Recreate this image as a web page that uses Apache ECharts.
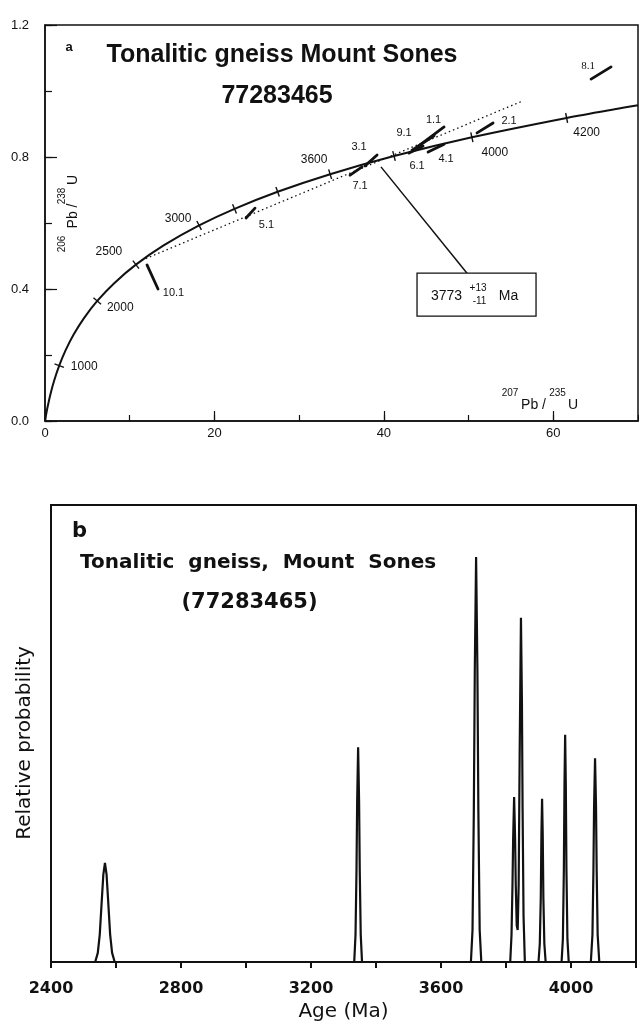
<!DOCTYPE html>
<html>
<head>
<meta charset="utf-8">
<script src="https://cdn.jsdelivr.net/npm/echarts@6/dist/echarts.min.js"></script>
<style>html,body{margin:0;padding:0;background:#fff}#c{width:639px;height:1030px}</style>
</head>
<body>
<div id="c"></div>
<script>
// ---------- DATA (panel a: concordia diagram) ----------
const concordiaAges = [0, 50, 100, 250, 500, 750, 1000, 1250, 1500, 1750, 2000, 2250, 2500, 2750, 3000, 3200, 3400, 3600, 3800, 4000, 4200, 4300, 4328];
const concordiaX = [0, 0.0505, 0.1035, 0.2792, 0.6363, 1.0931, 1.6774, 2.4249, 3.3810, 4.6041, 6.1685, 8.1697, 10.7298, 14.0044, 18.193, 22.371, 27.460, 33.656, 41.200, 50.388, 61.575, 68.052, 70.0];
const concordiaY = [0, 0.00779, 0.01563, 0.03954, 0.08065, 0.12338, 0.16780, 0.21399, 0.26200, 0.31190, 0.36377, 0.41769, 0.47374, 0.53203, 0.59262, 0.64280, 0.69456, 0.74796, 0.80306, 0.85986, 0.91847, 0.94846, 0.95703];
const tickAges = [1000, 2000, 2500, 3000, 3200, 3400, 3600, 3800, 4000, 4200];
const tickLabels = ['1000', '2000', '2500', '3000', '', '', '3600', '', '4000', '4200'];
const discordiaX = [11.4, 56.4];
const discordiaY = [0.487, 0.970];
const spotLabels = ['1.1', '2.1', '3.1', '4.1', '5.1', '6.1', '7.1', '8.1', '9.1', '10.1'];
const spotX1 = [43.92, 51.00, 37.78, 45.22, 23.73, 42.98, 36.01, 64.46, 43.33, 12.04];
const spotY1 = [0.830, 0.873, 0.773, 0.815, 0.615, 0.812, 0.745, 1.036, 0.821, 0.473];
const spotX2 = [47.11, 52.89, 39.20, 47.11, 24.79, 44.63, 37.43, 66.82, 45.93, 13.34];
const spotY2 = [0.891, 0.903, 0.806, 0.839, 0.645, 0.833, 0.770, 1.073, 0.864, 0.400];
const xTickLabels = ['0', '20', '40', '60'];
const yTickLabels = ['0.0', '0.4', '0.8', '1.2'];
const interceptAge = '3773';
const interceptPlus = '+13';
const interceptMinus = '-11';
const arrowTail = [49.82, 0.448];
const arrowTip = [39.66, 0.770];
const boxCenter = [50.94, 0.383];

// ---------- DATA (panel b: probability plot) ----------
const ageTickLabels = ['2400', '2800', '3200', '3600', '4000'];
const probAges = [
  2400,
  2536, 2544, 2550, 2556, 2561, 2566, 2571, 2576, 2582, 2588, 2596,
  3333, 3337, 3340, 3342, 3345, 3348, 3350, 3353, 3357,
  3692, 3697, 3701, 3704, 3708, 3712, 3715, 3719, 3724,
  3813, 3817, 3820, 3822, 3825, 3828, 3830, 3833, 3836, 3839, 3842, 3846, 3849, 3851, 3854, 3858,
  3900, 3904, 3907, 3909, 3911, 3913, 3915, 3918, 3922,
  3971, 3975, 3978, 3980, 3982, 3984, 3986, 3989, 3993,
  4061, 4066, 4069, 4071, 4074, 4077, 4079, 4082, 4087,
  4200];
const probValues = [
  0,
  0, 0.02, 0.06, 0.132, 0.191, 0.217, 0.191, 0.132, 0.06, 0.02, 0,
  0, 0.06, 0.2, 0.35, 0.47, 0.35, 0.2, 0.06, 0,
  0, 0.07, 0.33, 0.64, 0.886, 0.64, 0.33, 0.07, 0,
  0, 0.06, 0.17, 0.27, 0.361, 0.27, 0.17, 0.08, 0.07, 0.17, 0.45, 0.753, 0.57, 0.34, 0.1, 0,
  0, 0.04, 0.14, 0.28, 0.357, 0.28, 0.14, 0.04, 0,
  0, 0.05, 0.2, 0.39, 0.497, 0.39, 0.2, 0.05, 0,
  0, 0.06, 0.2, 0.34, 0.446, 0.34, 0.2, 0.06, 0,
  0];

// ---------- STYLE ----------
const BLACK = '#111';
const SANS = "'Liberation Sans', Arial, sans-serif";
const DEJA = "'DejaVu Sans', sans-serif";
const tickLabelOffset = {'1000': [25, 1], '2000': [23, 7], '2500': [-27, -13], '3000': [-21, -7], '3600': [-16, -14], '4000': [23, 15], '4200': [20, 15]};
const spotLabelOffset = {'1.1': [3, -17], '2.1': [24, -7], '3.1': [-12, -13], '4.1': [10, 11], '5.1': [16, 12], '6.1': [1, 16], '7.1': [4, 15], '8.1': [-13, -7], '9.1': [-19, -10], '10.1': [21, 16]};

const chart = echarts.init(document.getElementById('c'));

const concordiaData = concordiaX.map((x, i) => [x, concordiaY[i]]);
const tickData = tickAges.map(a => { const i = concordiaAges.indexOf(a); return [concordiaX[i], concordiaY[i], i]; });
const spotData = spotLabels.map((l, i) => [spotX1[i], spotY1[i], spotX2[i], spotY2[i]]);
const discordiaData = discordiaX.map((x, i) => [x, discordiaY[i]]);
const probData = probAges.map((a, i) => [a, probValues[i]]);

function renderTick(params, api) {
  const i = api.value(2);
  const p = api.coord([api.value(0), api.value(1)]);
  const a = api.coord([concordiaX[i - 1], concordiaY[i - 1]]);
  const b = api.coord([concordiaX[i + 1], concordiaY[i + 1]]);
  let dx = b[0] - a[0], dy = b[1] - a[1];
  const L = Math.hypot(dx, dy); dx /= L; dy /= L;
  const nx = -dy, ny = dx, h = 5;
  const children = [{type: 'line', shape: {x1: p[0] - nx * h, y1: p[1] - ny * h, x2: p[0] + nx * h, y2: p[1] + ny * h},
    style: {stroke: BLACK, lineWidth: 1.4}}];
  const lab = tickLabels[params.dataIndex];
  if (lab) {
    const o = tickLabelOffset[lab];
    children.push({type: 'text', x: p[0] + o[0], y: p[1] + o[1],
      style: {text: lab, fill: BLACK, font: '12px ' + SANS, align: 'center', verticalAlign: 'middle'}});
  }
  return {type: 'group', children};
}

function renderSpot(params, api) {
  const p1 = api.coord([api.value(0), api.value(1)]);
  const p2 = api.coord([api.value(2), api.value(3)]);
  const lab = spotLabels[params.dataIndex];
  const o = spotLabelOffset[lab];
  const cx = (p1[0] + p2[0]) / 2, cy = (p1[1] + p2[1]) / 2;
  return {type: 'group', children: [
    {type: 'line', shape: {x1: p1[0], y1: p1[1], x2: p2[0], y2: p2[1]}, style: {stroke: BLACK, lineWidth: 2.8, lineCap: 'round'}},
    {type: 'text', x: cx + o[0], y: cy + o[1], style: {text: lab, fill: BLACK,
      font: lab === '8.1' ? "11px 'Liberation Serif', serif" : '11px ' + SANS, align: 'center', verticalAlign: 'middle'}}
  ]};
}

const option = {
  animation: false,
  backgroundColor: '#fff',
  grid: [
    {left: 45, top: 25, width: 593, height: 396, show: true, borderColor: BLACK, borderWidth: 1.5, backgroundColor: 'transparent'},
    {left: 51, top: 505, width: 586, height: 457, show: true, borderColor: BLACK, borderWidth: 2, backgroundColor: 'transparent'}
  ],
  xAxis: [
    {gridIndex: 0, type: 'value', min: 0, max: 70, interval: 20, position: 'bottom',
      axisLine: {lineStyle: {color: BLACK, width: 1.5}},
      axisTick: {inside: true, length: 10, lineStyle: {color: BLACK, width: 1.2}},
      axisLabel: {margin: 6, color: BLACK, fontSize: 13, fontFamily: SANS, showMaxLabel: false,
        formatter: v => xTickLabels[xTickLabels.indexOf(String(v))] || ''},
      splitLine: {show: false}},
    {gridIndex: 0, type: 'value', min: 0, max: 70, interval: 10, position: 'bottom',
      axisLine: {show: false},
      axisTick: {inside: true, length: 6, lineStyle: {color: BLACK, width: 1.2}},
      axisLabel: {show: false}, splitLine: {show: false}},
    {gridIndex: 1, type: 'value', min: 2400, max: 4200, interval: 200, position: 'bottom',
      axisLine: {lineStyle: {color: BLACK, width: 2}},
      axisTick: {inside: false, length: 6, lineStyle: {color: BLACK, width: 2}},
      axisLabel: {margin: 19, color: BLACK, fontSize: 16, fontWeight: 'bold', fontFamily: DEJA,
        formatter: v => ageTickLabels.indexOf(String(v)) >= 0 ? String(v) : ''},
      splitLine: {show: false},
      name: 'Age (Ma)', nameLocation: 'middle', nameGap: 40,
      nameTextStyle: {color: BLACK, fontSize: 20, fontFamily: DEJA}}
  ],
  yAxis: [
    {gridIndex: 0, type: 'value', min: 0, max: 1.2, interval: 0.4, position: 'left',
      axisLine: {lineStyle: {color: BLACK, width: 1.5}},
      axisTick: {inside: true, length: 12, lineStyle: {color: BLACK, width: 1.2}},
      axisLabel: {margin: 16, color: BLACK, fontSize: 13, fontFamily: SANS,
        formatter: v => yTickLabels[Math.round(v / 0.4)] || ''},
      splitLine: {show: false}},
    {gridIndex: 0, type: 'value', min: 0, max: 1.2, interval: 0.2, position: 'left',
      axisLine: {show: false},
      axisTick: {inside: true, length: 7, lineStyle: {color: BLACK, width: 1.2}},
      axisLabel: {show: false}, splitLine: {show: false}},
    {gridIndex: 1, type: 'value', min: 0, max: 1, position: 'left',
      axisLine: {lineStyle: {color: BLACK, width: 2}},
      axisTick: {show: false}, axisLabel: {show: false}, splitLine: {show: false}}
  ],
  series: [
    {type: 'line', xAxisIndex: 0, yAxisIndex: 0, data: concordiaData, showSymbol: false, smooth: 0.3,
      lineStyle: {color: BLACK, width: 2}, silent: true, z: 3},
    {type: 'line', xAxisIndex: 0, yAxisIndex: 0, data: discordiaData, showSymbol: false,
      lineStyle: {color: BLACK, width: 1.3, type: [1.5, 3]}, silent: true, z: 2,
      markLine: {silent: true, symbol: ['none', 'arrow'], symbolSize: [0, 11],
        lineStyle: {color: BLACK, width: 1.5, type: 'solid'}, label: {show: false},
        data: [[{coord: arrowTail}, {coord: arrowTip}]]}},
    {type: 'custom', xAxisIndex: 0, yAxisIndex: 0, data: tickData, renderItem: renderTick, clip: false, silent: true, z: 4,
      encode: {x: 0, y: 1}},
    {type: 'custom', xAxisIndex: 0, yAxisIndex: 0, data: spotData, renderItem: renderSpot, clip: false, silent: true, z: 5,
      encode: {x: [0, 2], y: [1, 3]}},
    {type: 'line', xAxisIndex: 2, yAxisIndex: 2, data: probData, showSymbol: false,
      lineStyle: {color: BLACK, width: 2.2}, silent: true, z: 3}
  ]
};
chart.setOption(option);

const bc = chart.convertToPixel({xAxisIndex: 0, yAxisIndex: 0}, boxCenter);
function txt(x, y, text, font, align, rot) {
  return {type: 'text', x: x, y: y, rotation: rot || 0, silent: true,
    style: {text: text, fill: BLACK, font: font, align: align || 'center', verticalAlign: 'middle'}};
}
chart.setOption({
  graphic: {elements: [
    txt(69, 47, 'a', 'bold 13px ' + SANS),
    txt(282, 55, 'Tonalitic gneiss Mount Sones', 'bold 25px ' + SANS),
    txt(277, 96, '77283465', 'bold 25px ' + SANS),
    // y axis title 206Pb/238U
    txt(62.5, 244, '206', '10px ' + SANS, 'center', Math.PI / 2),
    txt(73, 216, 'Pb /', '14px ' + SANS, 'center', Math.PI / 2),
    txt(62, 196, '238', '10px ' + SANS, 'center', Math.PI / 2),
    txt(73, 180, 'U', '14px ' + SANS, 'center', Math.PI / 2),
    // x axis title 207Pb/235U
    txt(510, 393, '207', '10px ' + SANS),
    txt(533.5, 405, 'Pb /', '14px ' + SANS),
    txt(557.5, 393, '235', '10px ' + SANS),
    txt(573, 405, 'U', '14px ' + SANS),
    // intercept box
    {type: 'rect', silent: true, shape: {x: bc[0] - 59.5, y: bc[1] - 21.5, width: 119, height: 43},
      style: {fill: '#fff', stroke: BLACK, lineWidth: 1.3}, z: 10},
    Object.assign(txt(bc[0] - 30, bc[1] + 2, interceptAge, '14px ' + SANS), {z: 11}),
    Object.assign(txt(bc[0] + 1.5, bc[1] - 6.5, interceptPlus, '10px ' + SANS), {z: 11}),
    Object.assign(txt(bc[0] + 3, bc[1] + 6.5, interceptMinus, '10px ' + SANS), {z: 11}),
    Object.assign(txt(bc[0] + 32, bc[1] + 2, 'Ma', '14px ' + SANS), {z: 11}),
    // panel b titles
    txt(79.5, 532, 'b', 'bold 21px ' + DEJA),
    txt(80, 563, 'Tonalitic  gneiss,  Mount  Sones', 'bold 20px ' + DEJA, 'left'),
    txt(249.5, 603, '(77283465)', 'bold 21px ' + DEJA),
    txt(25, 743, 'Relative probability', '20px ' + DEJA, 'center', Math.PI / 2)
  ]}
});
</script>
</body>
</html>
